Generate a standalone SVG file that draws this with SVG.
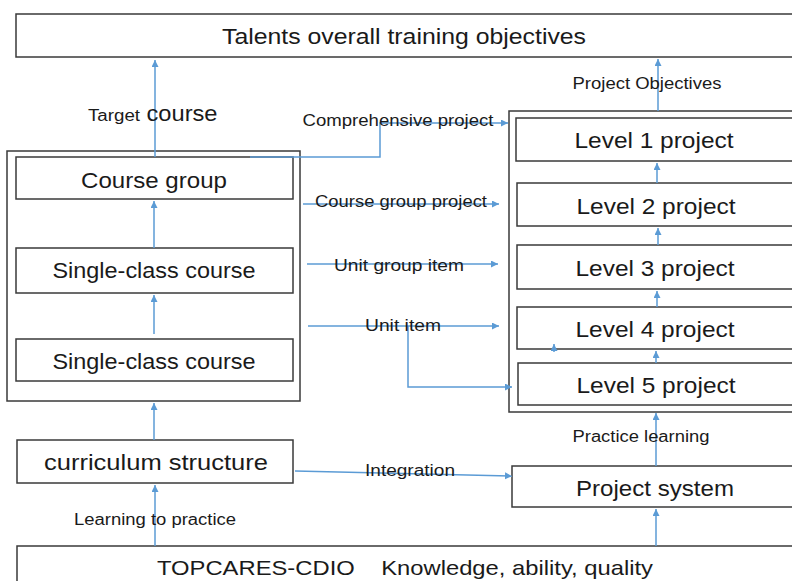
<svg xmlns="http://www.w3.org/2000/svg" width="792" height="581" viewBox="0 0 792 581">
<defs>
<marker id="ah" markerUnits="userSpaceOnUse" markerWidth="8" markerHeight="8" refX="7" refY="3.5" orient="auto">
<path d="M0,0 L7,3.5 L0,7 z" fill="#5B9BD5"/>
</marker>
<style>
.box{fill:#fff;stroke:#3a3a3a;stroke-width:1.5}
.frame{fill:none;stroke:#3a3a3a;stroke-width:1.5}
.c{fill:none;stroke:#5B9BD5;stroke-width:1.5;marker-end:url(#ah)}
.t{font-family:"Liberation Sans",Arial,sans-serif;fill:#1a1a1a;text-anchor:middle}
.big{font-size:22px}
.sm{font-size:16px}
</style>
</defs>
<rect width="792" height="581" fill="#fff"/>
<g id="frames">
<rect class="frame" x="7" y="151" width="293" height="250"/>
<rect class="frame" x="509" y="111" width="300" height="301"/>
</g>
<g id="n-top"><rect class="box" x="16" y="14" width="790" height="43"/><text class="t big" x="404" y="44" textLength="364" lengthAdjust="spacingAndGlyphs">Talents overall training objectives</text></g>
<g id="n-coursegroup"><rect class="box" x="16" y="157" width="277" height="42"/><text class="t big" x="154" y="188" textLength="146" lengthAdjust="spacingAndGlyphs">Course group</text></g>
<g id="n-single1"><rect class="box" x="16" y="248" width="277" height="45"/><text class="t big" x="154" y="278" textLength="203" lengthAdjust="spacingAndGlyphs">Single-class course</text></g>
<g id="n-single2"><rect class="box" x="16" y="339" width="277" height="42"/><text class="t big" x="154" y="369" textLength="203" lengthAdjust="spacingAndGlyphs">Single-class course</text></g>
<g id="n-curriculum"><rect class="box" x="17" y="440" width="276" height="43"/><text class="t big" x="156" y="470" textLength="224" lengthAdjust="spacingAndGlyphs">curriculum structure</text></g>
<g id="n-l1"><rect class="box" x="516" y="118" width="290" height="43"/><text class="t big" x="654" y="148" textLength="159" lengthAdjust="spacingAndGlyphs">Level 1 project</text></g>
<g id="n-l2"><rect class="box" x="517" y="183" width="290" height="43"/><text class="t big" x="656" y="214" textLength="159" lengthAdjust="spacingAndGlyphs">Level 2 project</text></g>
<g id="n-l3"><rect class="box" x="517" y="245" width="290" height="44"/><text class="t big" x="655" y="276" textLength="159" lengthAdjust="spacingAndGlyphs">Level 3 project</text></g>
<g id="n-l4"><rect class="box" x="517" y="307" width="290" height="42"/><text class="t big" x="655" y="337" textLength="159" lengthAdjust="spacingAndGlyphs">Level 4 project</text></g>
<g id="n-l5"><rect class="box" x="518" y="363" width="290" height="42"/><text class="t big" x="656" y="393" textLength="159" lengthAdjust="spacingAndGlyphs">Level 5 project</text></g>
<g id="n-projsys"><rect class="box" x="512" y="466" width="295" height="41"/><text class="t big" x="655" y="496" textLength="158" lengthAdjust="spacingAndGlyphs">Project system</text></g>
<g id="n-bottom"><rect class="box" x="17" y="546" width="790" height="45"/><text class="t" style="font-size:21px" x="405" y="575" textLength="496" lengthAdjust="spacingAndGlyphs" xml:space="preserve">TOPCARES-CDIO    Knowledge, ability, quality</text></g>
<g id="connectors">
<path class="c" d="M155 157 V60"/>
<path class="c" d="M154 248 V201"/>
<path class="c" d="M154 334 V295"/>
<path class="c" d="M154 440 V403"/>
<path class="c" d="M155 546 V485"/>
<path class="c" d="M250 157 H380 V123 H508"/>
<path class="c" d="M303 204 H499"/>
<path class="c" d="M307 264 H498"/>
<path class="c" d="M308 326 H499"/>
<path class="c" d="M408 326 V387 H512"/>
<path class="c" d="M295 471 L512 476"/>
<path class="c" d="M656 466 V413"/>
<path class="c" d="M656 546 V509"/>
<path class="c" d="M658 111 V59"/>
<path class="c" d="M657 183 V163"/>
<path class="c" d="M658 245 V228"/>
<path class="c" d="M657 307 V291"/>
<path class="c" d="M656 363 V351"/>
<path class="c" d="M554 352 V344"/>
</g>
<g id="labels">
<text class="t" x="114" y="121" style="font-size:16px" textLength="52" lengthAdjust="spacingAndGlyphs">Target</text>
<text class="t" x="182" y="121" style="font-size:22px" textLength="71" lengthAdjust="spacingAndGlyphs">course</text>
<text class="t sm" x="398" y="126" textLength="191" lengthAdjust="spacingAndGlyphs">Comprehensive project</text>
<text class="t sm" x="647" y="89" textLength="149" lengthAdjust="spacingAndGlyphs">Project Objectives</text>
<text class="t sm" x="401" y="207" textLength="172" lengthAdjust="spacingAndGlyphs">Course group project</text>
<text class="t sm" x="399" y="271" textLength="130" lengthAdjust="spacingAndGlyphs">Unit group item</text>
<text class="t sm" x="403" y="331" textLength="76" lengthAdjust="spacingAndGlyphs">Unit item</text>
<text class="t sm" x="641" y="442" textLength="137" lengthAdjust="spacingAndGlyphs">Practice learning</text>
<text class="t sm" x="410" y="476" textLength="90" lengthAdjust="spacingAndGlyphs">Integration</text>
<text class="t sm" x="155" y="525" textLength="162" lengthAdjust="spacingAndGlyphs">Learning to practice</text>
</g>
</svg>
